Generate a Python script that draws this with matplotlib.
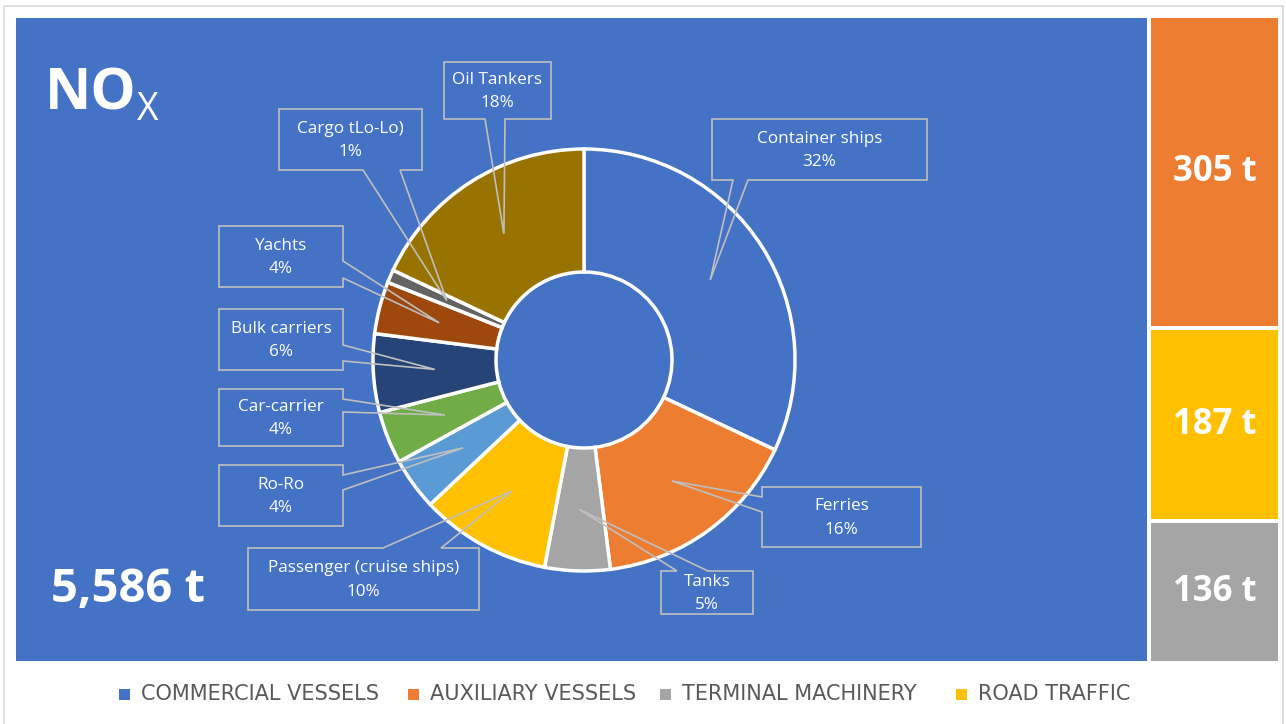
import numpy as np
import matplotlib
matplotlib.use("Agg")
import matplotlib.pyplot as plt
from matplotlib.patches import Rectangle, Polygon

plt.rcParams['font.family'] = ['Open Sans', 'DejaVu Sans']

# treemap data (tonnes NOx)
groups = ['COMMERCIAL VESSELS', 'AUXILIARY VESSELS', 'TERMINAL MACHINERY', 'ROAD TRAFFIC']
group_tonnes = [5586, 305, 136, 187]
group_colors = ['#4472C4', '#ED7D31', '#A5A5A5', '#FFC000']

# donut data: commercial vessels split by ship type (%)
ship_types = ['Container ships', 'Ferries', 'Tanks', 'Passenger (cruise ships)', 'Ro-Ro',
              'Car-carrier', 'Bulk carriers', 'Yachts', 'Cargo tLo-Lo)', 'Oil Tankers']
ship_share = [32, 16, 5, 10, 4, 4, 6, 4, 1, 18]
ship_colors = ['#4472C4', '#ED7D31', '#A5A5A5', '#FFC000', '#5B9BD5',
               '#70AD47', '#264478', '#9E480E', '#636363', '#997300']

W, H = 1286, 724
fig = plt.figure(figsize=(W / 100, H / 100), dpi=100)
ax = fig.add_axes([0, 0, 1, 1])

# donut
cx, cy, r_out, r_in = 584, 360, 211, 88
ax.pie(ship_share, colors=ship_colors, startangle=-90, counterclock=True,
       center=(cx, cy), radius=r_out, frame=True,
       wedgeprops=dict(width=r_out - r_in, edgecolor='white', linewidth=2.5, zorder=3))
ax.set_xlim(0, W)
ax.set_ylim(H, 0)
ax.set_aspect('equal')
ax.axis('off')

# outer frame
ax.add_patch(Rectangle((4, 6), 1279, 730, fill=False, edgecolor='#D9D9D9', lw=1.2))

# treemap layout
left, top, right, bottom, gap = 16, 18, 1278, 661, 4
total = sum(group_tonnes)
big_w = (right - left - gap) * group_tonnes[0] / total
ax.add_patch(Rectangle((left, top), big_w, bottom - top, color=group_colors[0], lw=0, zorder=1))

col_x = left + big_w + gap
col_w = right - col_x
order = [1, 3, 2]  # auxiliary, road traffic, terminal
rest = sum(group_tonnes[i] for i in order)
avail = bottom - top - gap * (len(order) - 1)
y = top
for i in order:
    h = avail * group_tonnes[i] / rest
    ax.add_patch(Rectangle((col_x, y), col_w, h, color=group_colors[i], lw=0))
    ax.text(col_x + col_w / 2, y + h / 2, f'{group_tonnes[i]} t', color='white',
            fontsize=25, fontweight='bold', ha='center', va='center')
    y += h + gap

# title + total
ax.text(45, 95, 'NO', color='white', fontsize=41, fontweight='bold', ha='left', va='center')
ax.text(137, 110, 'X', color='white', fontsize=27, ha='left', va='center')
ax.text(51, 590, f'{group_tonnes[0]:,} t', color='white', fontsize=34, fontweight='bold',
        ha='left', va='center')

# callout boxes: (x0, y0, x1, y1), side, notch start, notch end
boxes = {
    'Container ships': ((712, 119, 927, 180), 'bottom', 733, 748),
    'Ferries': ((762, 487, 921, 547), 'left', 497, 512),
    'Tanks': ((661, 571, 753, 614), 'top', 677, 708),
    'Passenger (cruise ships)': ((248, 548, 479, 610), 'top', 383, 441),
    'Ro-Ro': ((219, 465, 343, 526), 'right', 475, 490),
    'Car-carrier': ((219, 389, 343, 446), 'right', 399, 412),
    'Bulk carriers': ((219, 309, 343, 370), 'right', 345, 361),
    'Yachts': ((219, 226, 343, 287), 'right', 261, 278),
    'Cargo tLo-Lo)': ((279, 109, 422, 170), 'bottom', 363, 400),
    'Oil Tankers': ((444, 62, 551, 119), 'bottom', 485, 505),
}

cum = np.cumsum([0] + ship_share)
r_mid = (r_out + r_in) / 2
for k, name in enumerate(ship_types):
    mid = -90 + (cum[k] + ship_share[k] / 2) * 3.6
    tip = (cx + r_mid * np.cos(np.radians(mid)), cy + r_mid * np.sin(np.radians(mid)))
    (x0, y0, x1, y1), side, a, b = boxes[name]
    if side == 'bottom':
        pts = [(x0, y0), (x1, y0), (x1, y1), (b, y1), tip, (a, y1), (x0, y1)]
    elif side == 'top':
        pts = [(x0, y0), (a, y0), tip, (b, y0), (x1, y0), (x1, y1), (x0, y1)]
    elif side == 'left':
        pts = [(x0, y0), (x1, y0), (x1, y1), (x0, y1), (x0, b), tip, (x0, a)]
    else:
        pts = [(x0, y0), (x1, y0), (x1, a), tip, (x1, b), (x1, y1), (x0, y1)]
    ax.add_patch(Polygon(pts, closed=True, fill=False, edgecolor='#BFBFBF', lw=1.2, zorder=5))
    ax.text((x0 + x1) / 2, (y0 + y1) / 2 + 1, f'{name}\n{ship_share[k]}%', color='white',
            fontsize=12.3, ha='center', va='center', linespacing=1.65, zorder=6)

# legend
leg_x = [119, 408, 660, 956]
for i, g in enumerate(groups):
    ax.add_patch(Rectangle((leg_x[i], 689), 11, 11, color=group_colors[i], lw=0))
    ax.text(leg_x[i] + 22, 694, g, color='#595959', fontsize=15, ha='left', va='center',
            family='DejaVu Sans')

fig.savefig('out.png', dpi=100)
